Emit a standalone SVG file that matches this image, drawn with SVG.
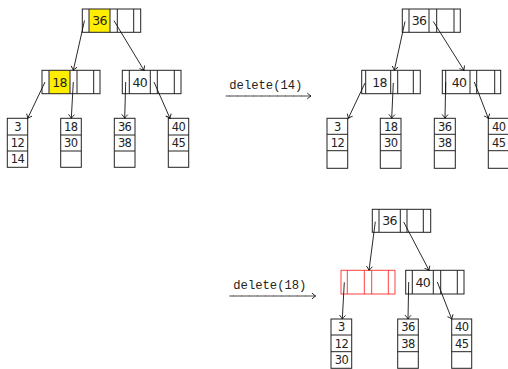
<svg xmlns="http://www.w3.org/2000/svg" width="508" height="369" viewBox="0 0 508 369">
<style>
.box{fill:none;stroke:#222;stroke-width:1}
.red{fill:none;stroke:#f00;stroke-width:1;stroke-opacity:0.75}
.hl{fill:#ffee00;stroke:none}
.k{font-family:"DejaVu Sans","Liberation Sans",sans-serif;font-size:12.5px;fill:#222;text-anchor:middle;letter-spacing:-0.6px}
.l{font-family:"DejaVu Sans","Liberation Sans",sans-serif;font-size:11.5px;fill:#222;text-anchor:middle;letter-spacing:-0.6px}
.cmd{font-family:"Liberation Mono","DejaVu Sans Mono",monospace;font-size:12.2px;fill:#222}
.e{stroke:#111;stroke-width:0.9;fill:none;marker-end:url(#ah)}
.op{stroke:#333;stroke-width:0.9;fill:none;marker-end:url(#ah)}
.tk{stroke:#777;stroke-width:2.2;stroke-dasharray:0.7 7.3;fill:none}
</style>
<defs>
<marker id="ah" markerUnits="userSpaceOnUse" markerWidth="10" markerHeight="10" refX="0" refY="0" viewBox="-6 -5 8 10" orient="auto">
<path d="M-3.8,-3 Q-1.2,-0.6 0,0 Q-1.2,0.6 -3.8,3" fill="none" stroke="#111" stroke-width="0.9"/>
</marker>
</defs>

<!-- Panel 1 -->
<g id="p1-root">
<rect class="hl" x="89" y="9" width="21" height="23.3"/>
<rect class="box" x="82.3" y="9" width="58.4" height="23.3"/>
<path class="box" d="M89,9V32.3M110,9V32.3M117.3,9V32.3M133.7,9V32.3"/>
<text class="k" x="99.5" y="25.3">36</text>
</g>
<g id="p1-n18">
<rect class="hl" x="49" y="70.3" width="21" height="23.4"/>
<rect class="box" x="42" y="70.3" width="58" height="23.4"/>
<path class="box" d="M49,70.3V93.7M70,70.3V93.7M77,70.3V93.7M93.7,70.3V93.7"/>
<text class="k" x="59.5" y="86.6">18</text>
</g>
<g id="p1-n40">
<rect class="box" x="122.3" y="70.3" width="58.7" height="23.4"/>
<path class="box" d="M129.3,70.3V93.7M150.3,70.3V93.7M157.3,70.3V93.7M174.3,70.3V93.7"/>
<text class="k" x="139.8" y="86.6">40</text>
</g>
<g id="p1-leaf1">
<rect class="box" x="7.3" y="118.3" width="20.4" height="49"/>
<path class="box" d="M7.3,135H27.7M7.3,151H27.7"/>
<text class="l" x="17.5" y="130.9">3</text>
<text class="l" x="17.5" y="147.2">12</text>
<text class="l" x="17.5" y="163.3">14</text>
</g>
<g id="p1-leaf2">
<rect class="box" x="60.7" y="118.3" width="20.6" height="49"/>
<path class="box" d="M60.7,135H81.3M60.7,151H81.3"/>
<text class="l" x="70.8" y="130.9">18</text>
<text class="l" x="70.8" y="147.2">30</text>
</g>
<g id="p1-leaf3">
<rect class="box" x="114.3" y="118.3" width="20.7" height="49"/>
<path class="box" d="M114.3,135H135M114.3,151H135"/>
<text class="l" x="124.6" y="130.9">36</text>
<text class="l" x="124.6" y="147.2">38</text>
</g>
<g id="p1-leaf4">
<rect class="box" x="168.3" y="118.3" width="20.4" height="49"/>
<path class="box" d="M168.3,135H188.7M168.3,151H188.7"/>
<text class="l" x="178.5" y="130.9">40</text>
<text class="l" x="178.5" y="147.2">45</text>
</g>

<!-- Panel 2 -->
<g id="p2-root">
<rect class="box" x="402.3" y="9" width="58" height="23.3"/>
<path class="box" d="M409,9V32.3M429,9V32.3M436.7,9V32.3M454,9V32.3"/>
<text class="k" x="419" y="25.3">36</text>
</g>
<g id="p2-n18">
<rect class="box" x="361.7" y="70.3" width="58.6" height="23.4"/>
<path class="box" d="M365.7,70.3V93.7M390.7,70.3V93.7M397.7,70.3V93.7M413.3,70.3V93.7"/>
<text class="k" x="379.5" y="86.6">18</text>
</g>
<g id="p2-n40">
<rect class="box" x="442.3" y="70.3" width="58.4" height="23.4"/>
<path class="box" d="M445.7,70.3V93.7M470,70.3V93.7M476.7,70.3V93.7M494.7,70.3V93.7"/>
<text class="k" x="459" y="86.6">40</text>
</g>
<g id="p2-leaf1">
<rect class="box" x="327" y="118.3" width="20.7" height="50"/>
<path class="box" d="M327,134.3H347.7M327,150.7H347.7"/>
<text class="l" x="337.4" y="130.5">3</text>
<text class="l" x="337.4" y="146.8">12</text>
</g>
<g id="p2-leaf2">
<rect class="box" x="380.3" y="118.3" width="20.7" height="50"/>
<path class="box" d="M380.3,134.3H401M380.3,150.7H401"/>
<text class="l" x="390.7" y="130.5">18</text>
<text class="l" x="390.7" y="146.8">30</text>
</g>
<g id="p2-leaf3">
<rect class="box" x="434.3" y="118.3" width="21" height="50"/>
<path class="box" d="M434.3,134.3H455.3M434.3,150.7H455.3"/>
<text class="l" x="444.8" y="130.5">36</text>
<text class="l" x="444.8" y="146.8">38</text>
</g>
<g id="p2-leaf4">
<rect class="box" x="488.3" y="118.3" width="21" height="50"/>
<path class="box" d="M488.3,134.3H509.3M488.3,150.7H509.3"/>
<text class="l" x="498.8" y="130.5">40</text>
<text class="l" x="498.8" y="146.8">45</text>
</g>

<!-- Panel 3 -->
<g id="p3-root">
<rect class="box" x="372.3" y="209.3" width="58.4" height="23"/>
<path class="box" d="M379,209.3V232.3M400.3,209.3V232.3M407,209.3V232.3M423.3,209.3V232.3"/>
<text class="k" x="389.6" y="225.4">36</text>
</g>
<g id="p3-empty">
<rect class="red" x="341" y="270.3" width="54" height="23.7"/>
<path class="red" d="M347.3,270.3V294M364.3,270.3V294M371.7,270.3V294M388.3,270.3V294"/>
</g>
<g id="p3-n40">
<rect class="box" x="405.7" y="270.3" width="58.3" height="23.7"/>
<path class="box" d="M412.3,270.3V294M433.3,270.3V294M440.7,270.3V294M457.3,270.3V294"/>
<text class="k" x="422.8" y="286.7">40</text>
</g>
<g id="p3-leaf1">
<rect class="box" x="331" y="319" width="20.7" height="49.3"/>
<path class="box" d="M331,335H351.7M331,351.7H351.7"/>
<text class="l" x="341.4" y="331.2">3</text>
<text class="l" x="341.4" y="347.6">12</text>
<text class="l" x="341.4" y="364.2">30</text>
</g>
<g id="p3-leaf2">
<rect class="box" x="397.7" y="319" width="20.6" height="49.3"/>
<path class="box" d="M397.7,335H418.3M397.7,351.7H418.3"/>
<text class="l" x="408" y="331.2">36</text>
<text class="l" x="408" y="347.6">38</text>
</g>
<g id="p3-leaf3">
<rect class="box" x="451.7" y="319" width="20" height="49.3"/>
<path class="box" d="M451.7,335H471.7M451.7,351.7H471.7"/>
<text class="l" x="461.7" y="331.2">40</text>
<text class="l" x="461.7" y="347.6">45</text>
</g>

<g id="ops">
<text class="cmd" x="229.3" y="89">delete(14)</text>
<path class="op" d="M225.7,96H311"/>
<path class="tk" d="M229,96H306"/>
<text class="cmd" x="233.3" y="289">delete(18)</text>
<path class="op" d="M229.3,296H315.7"/>
<path class="tk" d="M233,296H311"/>
</g>

<g id="connectors">
<path class="e" d="M84.5,20.5L73.3,70.3"/>
<path class="e" d="M114,20.7L144,70.3"/>
<path class="e" d="M45,82L27.7,118.3"/>
<path class="e" d="M73.3,82L71.3,118.3"/>
<path class="e" d="M125.7,82L124.7,118.3"/>
<path class="e" d="M154,82L170,118.3"/>

<path class="e" d="M405,21.5L394.3,70.3"/>
<path class="e" d="M433.3,21.5L464,70.3"/>
<path class="e" d="M365,83L348.3,118.3"/>
<path class="e" d="M393.3,83L391.7,118.3"/>
<path class="e" d="M445.7,82L445,118.3"/>
<path class="e" d="M474.3,82L488.3,118.3"/>

<path class="e" d="M375.3,221.7L369,270.3"/>
<path class="e" d="M403.7,222L429,270.3"/>
<path class="e" d="M344.3,282.3L342.3,319"/>
<path class="e" d="M408.7,282L408,319"/>
<path class="e" d="M437.3,282L451.7,319"/>
</g>
</svg>
